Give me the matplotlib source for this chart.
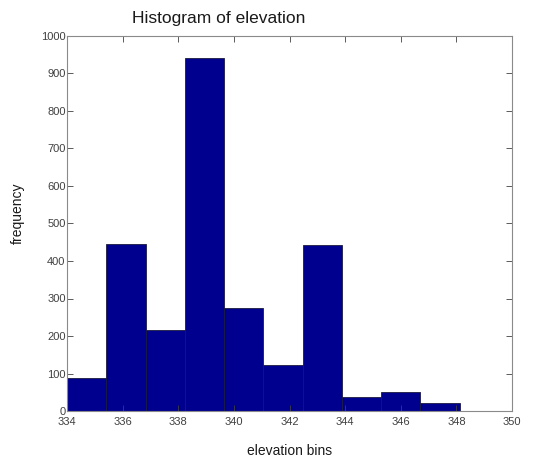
import numpy as np
import matplotlib
matplotlib.use('Agg')
import matplotlib.pyplot as plt

# Data
bin_min = 334.0
bin_max = 348.12
counts = [87, 444, 215, 942, 276, 123, 442, 37, 51, 21]
x_ticks = [334, 336, 338, 340, 342, 344, 346, 348, 350]
y_ticks = [0, 100, 200, 300, 400, 500, 600, 700, 800, 900, 1000]

plt.rcParams['font.family'] = ['Liberation Sans', 'DejaVu Sans']

edges = np.linspace(bin_min, bin_max, len(counts) + 1)

fig = plt.figure(figsize=(5.59, 4.57), dpi=100)
ax = fig.add_axes([67 / 559, 1 - 411 / 457, (512 - 67) / 559, (411 - 36) / 457])

ax.bar(edges[:-1], counts, width=np.diff(edges), align='edge',
       color='#00008F', edgecolor='#1a1a40', linewidth=0.6)

ax.set_xlim(334, 350)
ax.set_ylim(0, 1000)
ax.set_xticks(x_ticks)
ax.set_yticks(y_ticks)
ax.tick_params(direction='in', top=True, right=True, length=4, width=0.6,
               labelsize=8, colors='#404040')
ax.tick_params(axis='x', pad=4)
ax.tick_params(axis='y', pad=1)
for s in ax.spines.values():
    s.set_color('#8a8a8a')
    s.set_linewidth(0.8)

fig.text(219 / 559, 1 - 18 / 457, 'Histogram of elevation', ha='center', va='center',
         fontsize=12.5, color='#1a1a1a')
fig.text(290 / 559, 1 - 451 / 457, 'elevation bins', ha='center', va='center',
         fontsize=10, color='#1a1a1a')
fig.text(18 / 559, 1 - 213 / 457, 'frequency', ha='center', va='center',
         fontsize=10, color='#1a1a1a', rotation=90)

fig.savefig('out.png', dpi=100)
